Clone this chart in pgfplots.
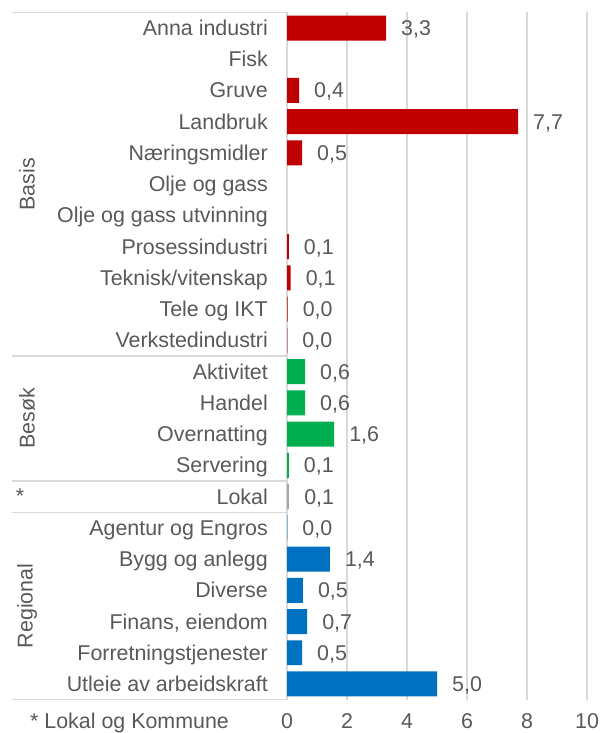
\documentclass[border=0pt]{standalone}
\usepackage{pgfplots}
\pgfplotsset{compat=1.18}
\usepackage{fontspec}
\setmainfont{Liberation Sans}
\definecolor{txt}{HTML}{595959}
\definecolor{gridc}{HTML}{D9D9D9}
\definecolor{cred}{HTML}{C00000}
\definecolor{cgreen}{HTML}{00B050}
\definecolor{cblue}{HTML}{0070C0}
\definecolor{cgray}{HTML}{A5A5A5}
\begin{document}
\begin{tikzpicture}[font=\fontsize{21.4bp}{25bp}\selectfont]
\useasboundingbox (0,0) rectangle (600bp,733bp);
\begin{axis}[
  at={(287bp,33.4bp)}, anchor=south west,
  width=300bp, height=687.2bp, scale only axis,
  xbar, bar shift=0pt, bar width=0.8,
  xmin=0, xmax=10, ymin=-0.5, ymax=21.5, y dir=reverse,
  xtick={0,2,...,10}, ytick={0,...,21},
  yticklabels={Anna industri,Fisk,Gruve,Landbruk,Næringsmidler,Olje og gass,Olje og gass utvinning,Prosessindustri,Teknisk/vitenskap,Tele og IKT,Verkstedindustri,Aktivitet,Handel,Overnatting,Servering,Lokal,Agentur og Engros,Bygg og anlegg,Diverse,{Finans, eiendom},Forretningstjenester,Utleie av arbeidskraft},
  axis line style={draw=none},
  xmajorgrids, grid style={gridc, line width=1.2bp},
  major tick length=0,
  xticklabel style={text=txt, anchor=base, inner sep=0pt, yshift=-28.5bp},
  yticklabel style={text=txt, anchor=east, inner sep=0pt, xshift=-19bp, text height=15bp, text depth=0pt},
  /pgf/number format/assume math mode=true,
  nodes near coords={\pgfmathprintnumber[fixed,fixed zerofill,precision=1,use comma]{\pgfplotspointmeta}},
  every node near coord/.append style={anchor=west, inner sep=0pt, xshift=15bp, text=txt, text height=15bp, text depth=0pt},
  clip=false,
]
\addplot[fill=cred, draw=none] coordinates {(3.3,0) (0.4,2) (7.7,3) (0.5,4) (0.06,7) (0.12,8) (0.02,9) (0.01,10)};
\addplot[fill=cgreen, draw=none] coordinates {(0.6,11) (0.6,12) (1.57,13) (0.06,14)};
\addplot[fill=cgray, draw=none] coordinates {(0.07,15)};
\addplot[fill=cblue, draw=none] coordinates {(0.01,16) (1.43,17) (0.53,18) (0.67,19) (0.5,20) (5.0,21)};
\draw[gridc, line width=1.2bp] ([xshift=-275bp]axis cs:0,-0.5) -- (axis cs:0,-0.5);
\draw[gridc, line width=1.2bp] ([xshift=-275bp]axis cs:0,10.5) -- (axis cs:0,10.5);
\draw[gridc, line width=1.2bp] ([xshift=-275bp]axis cs:0,14.5) -- (axis cs:0,14.5);
\draw[gridc, line width=1.2bp] ([xshift=-275bp]axis cs:0,15.5) -- (axis cs:0,15.5);
\draw[gridc, line width=1.2bp] ([xshift=-275bp]axis cs:0,21.5) -- (axis cs:0,21.5);
\node[rotate=90, text=txt] at ([xshift=-260bp]axis cs:0,5) {Basis};
\node[rotate=90, text=txt] at ([xshift=-260bp]axis cs:0,12.5) {Besøk};
\node[text=txt] at ([xshift=-267bp]axis cs:0,15) {*};
\node[rotate=90, text=txt] at ([xshift=-260bp]axis cs:0,18.5) {Regional};
\end{axis}
\node[anchor=base west, inner sep=0pt, text=txt] at (30bp,4.9bp) {* Lokal og Kommune};
\end{tikzpicture}
\end{document}
